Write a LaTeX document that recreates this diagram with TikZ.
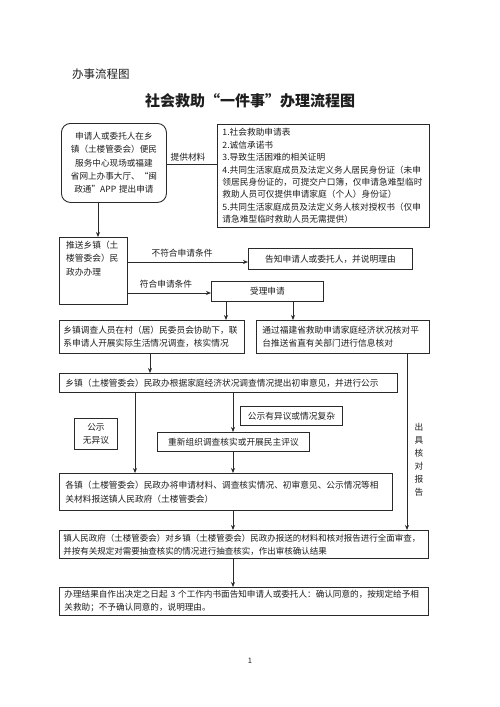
\documentclass[tikz,border=0pt]{standalone}
\usepackage{fontspec}
\setmainfont{Noto Sans CJK SC}
\usetikzlibrary{arrows.meta}
\definecolor{lc}{HTML}{2A2A2A}
\definecolor{tc}{HTML}{1E1E1E}
\begin{document}
\begin{tikzpicture}[x=1pt,y=-1pt,
  box/.style={draw=lc, line width=0.9pt, inner xsep=4pt, inner ysep=1pt, anchor=north west, text=tc,
    font=\fontsize{8.5}{12.5}\selectfont},
  lbox/.style={box, align=left},
  cbox/.style={box, align=center},
  bigf/.style={font=\fontsize{8.7}{12.8}\selectfont},
  arr/.style={draw=lc, line width=0.9pt, -{Stealth[length=5pt,width=4pt]}},
  ln/.style={draw=lc, line width=0.9pt},
  lab/.style={font=\fontsize{8.7}{12.5}\selectfont, inner sep=1pt, text=tc}]
\useasboundingbox[fill=white] (0,0) rectangle (500,707);

% headings
\node[anchor=west, inner sep=0, text=tc, font=\fontsize{11.5}{13}\selectfont] (hd) at (72,74) {办事流程图};
\node[inner sep=0, text=tc, font=\fontsize{15}{17}\selectfont\bfseries] (title) at (250,101) {社会救助“一件事”办理流程图};

% column / row helpers
\coordinate (xA) at (98,0);
\coordinate (xB) at (226,0);
\coordinate (xC) at (293,0);
\coordinate (xD) at (150,0);
\coordinate (xE) at (135,0);
\coordinate (xF) at (233,0);
\coordinate (xG) at (407,0);
\coordinate (r0) at (0,164);
\coordinate (r1) at (0,262);
\coordinate (r2) at (0,293);

% boxes
\node[cbox, rounded corners=9pt, text width=97pt, minimum height=79pt,
  font=\fontsize{8.6}{13.3}\selectfont] (b1) at (61,123)
  {申请人或委托人在乡\\镇（土楼管委会）便民\\服务中心现场或福建\\省网上办事大厅、“闽\\政通”APP 提出申请};

\node[lbox, text width=202pt, inner xsep=5pt, minimum height=103pt, font=\fontsize{8.7}{12.4}\selectfont] (b2) at (217,124)
  {1.社会救助申请表\\2.诚信承诺书\\3.导致生活困难的相关证明\\4.共同生活家庭成员及法定义务人居民身份证（未申\\领居民身份证的，可提交户口簿，仅申请急难型临时\\救助人员可仅提供申请家庭（个人）身份证）\\5.共同生活家庭成员及法定义务人核对授权书（仅申\\请急难型临时救助人员无需提供）};

\node[box, minimum width=68pt, minimum height=67pt, inner sep=0] (b3) at (59,237) {};
\node[lab, anchor=north west, align=left, inner sep=0, font=\fontsize{8.7}{13.2}\selectfont] (b3t) at (66,241)
  {推送乡镇（土\\楼管委会）民\\政办办理};

\node[cbox, bigf, text width=156pt, minimum height=21pt] (b4) at (248,248) {告知申请人或委托人，并说明理由};
\node[cbox, bigf, text width=104pt, minimum height=20pt] (b5) at (211,281) {受理申请};

\node[lbox, bigf, text width=177pt, minimum height=33pt] (b6) at (59,320)
  {乡镇调查人员在村（居）民委员会协助下，联\\系申请人开展实际生活情况调查，核实情况};
\node[lbox, bigf, text width=161pt, inner xsep=6pt, minimum height=33pt] (b7) at (256,320)
  {通过福建省救助申请家庭经济状况核对平\\台推送省直有关部门进行信息核对};

\node[lbox, bigf, text width=326pt, inner xsep=6pt, minimum height=19pt] (b8) at (59,373)
  {乡镇（土楼管委会）民政办根据家庭经济状况调查情况提出初审意见，并进行公示};

\node[cbox, bigf, text width=94pt, minimum height=19pt] (yy) at (240,406) {公示有异议或情况复杂};
\node[cbox, bigf, text width=35pt, minimum height=31pt, font=\fontsize{8.7}{13.5}\selectfont] (wy) at (74,418) {公示\\无异议};
\node[cbox, bigf, text width=144pt, minimum height=19pt] (b12) at (157,432) {重新组织调查核实或开展民主评议};

\node[lbox, bigf, text width=321pt, inner xsep=6pt, minimum height=37pt, font=\fontsize{8.7}{14}\selectfont] (b9) at (59,473)
  {各镇（土楼管委会）民政办将申请材料、调查核实情况、初审意见、公示情况等相\\关材料报送镇人民政府（土楼管委会）};

\node[lbox, text width=361pt, minimum height=28pt, font=\fontsize{8.5}{13}\selectfont] (b10) at (59,530)
  {镇人民政府（土楼管委会）对乡镇（土楼管委会）民政办报送的材料和核对报告进行全面审查，\\并按有关规定对需要抽查核实的情况进行抽查核实，作出审核确认结果};

\node[lbox, text width=359pt, inner xsep=5pt, minimum height=28pt, font=\fontsize{8.6}{13}\selectfont] (b11) at (59,587)
  {办理结果自作出决定之日起 3 个工作内书面告知申请人或委托人：确认同意的，按规定给予相\\关救助；不予确认同意的，说明理由。};

% labels
\node[lab] (l0) at (188,157) {提供材料};
\node[lab] (l1) at (182,253) {不符合申请条件};
\node[lab] (l2) at (166,284) {符合申请条件};
\node[lab, align=center, font=\fontsize{8.7}{13}\selectfont] (l3) at (419,459.5) {出\\具\\核\\对\\报\\告};

% connectors
\draw[ln] (b1.east |- r0) -- (b2.west |- r0);
\draw[arr] (b1.south -| xA) -- (b3.north -| xA);
\draw[arr] (b3.east |- r1) -- (b4.west |- r1);
\draw[arr] (b3.east |- r2) -- (b5.west |- r2);
\draw[arr] (b5.south -| xB) -- (b6.north -| xB);
\draw[arr] (b5.south -| xC) -- (b7.north -| xC);
\draw[arr] (b6.south -| xD) -- (b8.north -| xD);
\draw[arr] (b8.south -| xE) -- (b9.north -| xE);
\draw[arr] (b8.south -| xF) -- (b12.north -| xF);
\draw[arr] (b12.south -| xF) -- (b9.north -| xF);
\draw[arr] (b9.south -| xF) -- (b10.north -| xF);
\draw[arr] (b7.south -| xG) -- (b10.north -| xG);
\draw[arr] (b10.south -| xF) -- (b11.north -| xF);

% page number
\node[lab, font=\fontsize{7.5}{9}\selectfont] (pg) at (250,661) {1};
\end{tikzpicture}
\end{document}
